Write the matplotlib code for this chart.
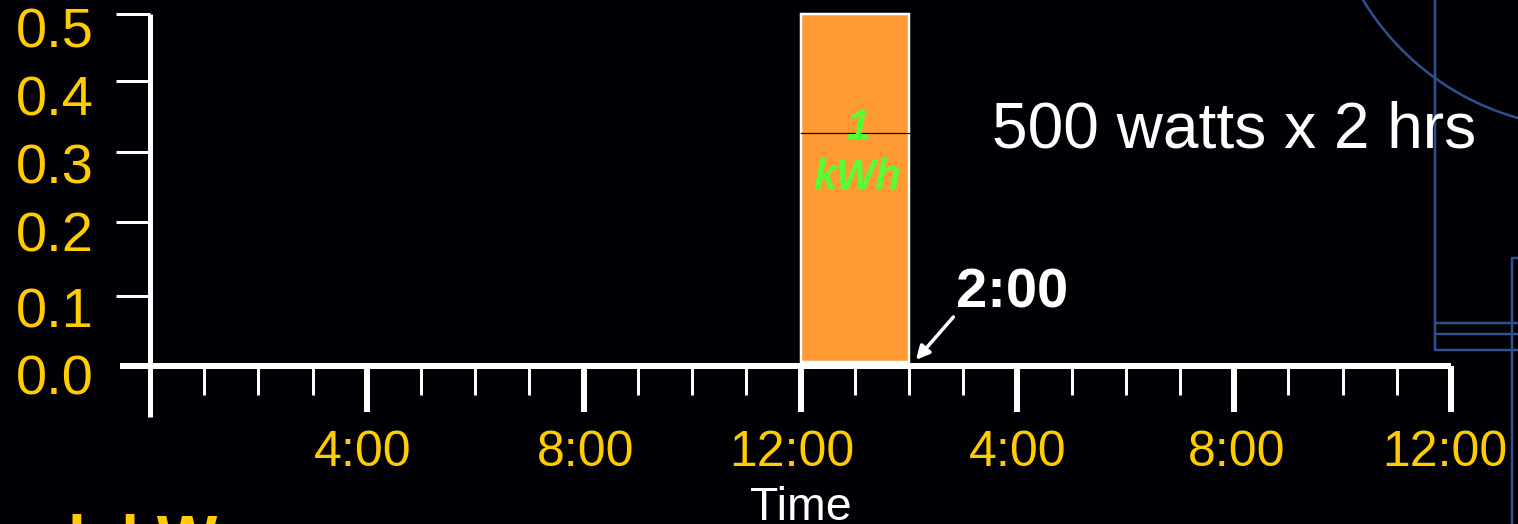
import numpy as np
import matplotlib
matplotlib.use('Agg')
import matplotlib.pyplot as plt
from matplotlib.patches import Rectangle
from matplotlib.transforms import ScaledTranslation

plt.rcParams['font.family'] = ['Liberation Sans', 'DejaVu Sans']

W, H = 1518, 524
BG = '#000005'
YELLOW = '#FFCC00'
BLUE = '#30508F'

# chart data
hours = np.arange(0, 25)
major_hours = [4, 8, 12, 16, 20, 24]
major_labels = ['4:00', '8:00', '12:00', '4:00', '8:00', '12:00']
y_ticks = [0.0, 0.0948, 0.2007, 0.3013, 0.4033, 0.5]
y_labels = ['0.0', '0.1', '0.2', '0.3', '0.4', '0.5']
bar_start = 12
bar_hours = 2
bar_power = 0.5
split_level = 0.329

# the slide's labels are not centred on their ticks (pixels)
x_label_shift = [-4, 1.5, -9, 0, 2, -6]
y_label_shift = [12.5, 11.5, 8.7, 11.2, 13.7, 13.5]


def px(v):
    # pixels to points at dpi 100
    return v * 0.72


def nudge(label, dx, dy):
    # move a tick label by pixels, y going down
    label.set_transform(label.get_transform() + ScaledTranslation(dx / 100, -dy / 100, fig.dpi_scale_trans))


fig = plt.figure(figsize=(W / 100, H / 100), dpi=100, facecolor=BG)

# leftover slide drawing behind the chart, in pixel coordinates
bg = fig.add_axes([0, 0, 1, 1])
bg.set_xlim(0, W)
bg.set_ylim(H, 0)
bg.axis('off')
bg.plot([1434.5, 1434.5, W], [0, 350, 350], color=BLUE, lw=px(2.5))
bg.plot([1434.5, W], [323, 323], color=BLUE, lw=px(2.5))
bg.plot([1434.5, W], [334, 334], color=BLUE, lw=px(2.5))
bg.plot([1511.5, 1511.5, W], [H, 258, 258], color=BLUE, lw=px(2.5))
arc_x = np.linspace(1363.5, W, 120)
bg.plot(arc_x, -137.1 + np.sqrt(265.0 ** 2 - (arc_x - 1589.8) ** 2), color=BLUE, lw=px(2.5))

ax = fig.add_axes([150 / W, 1 - 362 / H, (1451 - 150) / W, 348 / H])
ax.patch.set_alpha(0)
ax.set_xlim(0, 24)
ax.set_ylim(0, 0.5)

ax.add_patch(Rectangle((bar_start, 0), bar_hours, bar_power, facecolor='#FF9933',
                       edgecolor='white', lw=px(2.5), clip_on=False, zorder=2))
ax.plot([bar_start, bar_start + bar_hours], [split_level, split_level],
        color='black', lw=px(1.2), zorder=3)

# spines overshoot the plot area, x axis sits a little under the bar
ax.spines['top'].set_visible(False)
ax.spines['right'].set_visible(False)
ax.spines['bottom'].set_position(('outward', px(4)))
ax.spines['bottom'].set_bounds(-30 / 54.2, 24)
ax.spines['left'].set_bounds(-55 / 696, 0.5)
for side, width in [('bottom', 6), ('left', 5)]:
    ax.spines[side].set_color('white')
    ax.spines[side].set_linewidth(px(width))
    ax.spines[side].set_capstyle('butt')

ax.set_xticks(major_hours)
ax.set_xticklabels(major_labels, color=YELLOW, fontsize=px(50))
ax.set_xticks(hours, minor=True)
ax.tick_params(axis='x', which='major', length=px(46), width=px(6), color='white', pad=px(18))
ax.tick_params(axis='x', which='minor', length=px(29), width=px(3), color='white')
for lab, dx in zip(ax.get_xticklabels(), x_label_shift):
    nudge(lab, dx, 0)

ax.set_yticks(y_ticks)
ax.set_yticklabels(y_labels, color=YELLOW, fontsize=px(56))
ax.tick_params(axis='y', length=px(34), width=px(3), color='white', pad=px(22))
ax.yaxis.get_major_ticks()[0].tick1line.set_visible(False)
for lab, dy in zip(ax.get_yticklabels(), y_label_shift):
    nudge(lab, 0, dy)

ax.set_xlabel('Time', color='white', fontsize=px(46.5), va='top')
ax.xaxis.set_label_coords(0.5, (362 - 486) / 348)

ax.text(13.05, 0.30, '1\nkWh', color='#55FF33', fontsize=px(41.5), fontweight='bold',
        fontstyle='italic', ha='center', va='center', linespacing=1.33, zorder=5)

ax.annotate('', xy=(14.13, 0.003), xytext=(14.82, 0.0647),
            arrowprops=dict(arrowstyle='-|>', color='white', lw=px(3.5), mutation_scale=20,
                            shrinkA=0, shrinkB=0),
            annotation_clip=False)

fig.text(1234.5 / W, 1 - 130 / H, '500 watts x 2 hrs', color='white', fontsize=px(64),
         ha='center', va='center')
fig.text(1012.5 / W, 1 - 293 / H, '2:00', color='white', fontsize=px(56), fontweight='bold',
         ha='center', va='center')

# next line of the slide, cut off by the bottom edge
fig.text(68.5 / W, 1 - 561 / H, 'l  kW', color=YELLOW, fontsize=px(64), fontweight='bold',
         ha='left', va='baseline')

fig.savefig('out.png', dpi=100, facecolor=BG)
